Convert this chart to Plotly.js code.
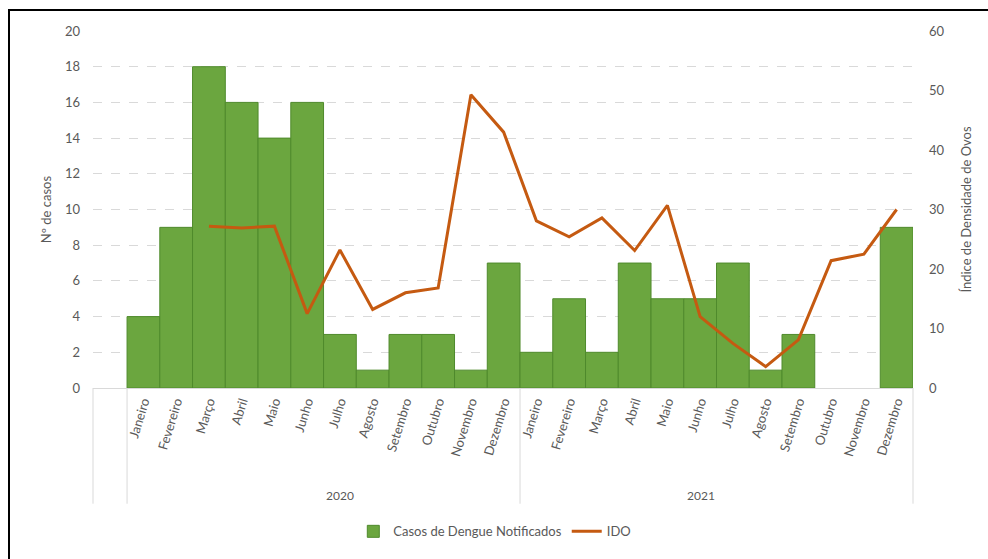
<!DOCTYPE html>
<html>
<head>
<meta charset="utf-8">
<script src="https://cdn.plot.ly/plotly-3.0.1.min.js"></script>
<style>
html,body{margin:0;padding:0;background:#fff;}
#wrap{position:relative;width:988px;height:559px;overflow:hidden;}
#chart{position:absolute;left:0;top:0;width:988px;height:559px;}
#frame{position:absolute;left:8px;top:9px;width:990px;height:560px;border-top:2px solid #000;border-left:2px solid #000;pointer-events:none;}
</style>
</head>
<body>
<div id="wrap"><div id="chart"></div><div id="frame"></div></div>
<script>
const months = ["Janeiro","Fevereiro","Março","Abril","Maio","Junho","Julho","Agosto","Setembro","Outubro","Novembro","Dezembro",
                "Janeiro","Fevereiro","Março","Abril","Maio","Junho","Julho","Agosto","Setembro","Outubro","Novembro","Dezembro"];
const years = ["2020","2021"];
const casos = [4,9,18,16,14,16,3,1,3,3,1,7, 2,5,2,7,5,5,7,1,3,0,0,9];
const ido = [null,null,27.2,26.9,27.2,12.5,23.2,13.2,16,16.8,49.3,43, 28.1,25.4,28.6,23.1,30.7,12,7.5,3.6,8.1,21.4,22.5,30];

const idx = months.map((m,i)=>i);
const xr = [-1.54, 23.5];
const toPaper = v => (v - xr[0])/(xr[1]-xr[0]);
const grey = '#595959';
const font = 'Lato, "Open Sans", sans-serif';

const traces = [
  {type:'bar', x:idx, y:casos, name:'Casos de Dengue Notificados', width:1,
   marker:{color:'#6BA63F', line:{color:'#4F8A2C', width:casos.map(v=>v>0?1:0)}}, yaxis:'y'},
  {type:'scatter', mode:'lines', x:idx, y:ido, name:'IDO', yaxis:'y2',
   line:{color:'#C55A11', width:3}}
];

const perGroup = 12;
const shapes = [];
const bottomY = -(509-392)/361;
shapes.push({type:'line', xref:'paper', yref:'paper', x0:0, x1:0, y0:0, y1:bottomY, line:{color:'#d9d9d9', width:1}});
for (let g=0; g<=years.length; g++){
  const xv = toPaper(g*perGroup - 0.5);
  shapes.push({type:'line', xref:'paper', yref:'paper', x0:xv, x1:xv, y0:0, y1:bottomY, line:{color:'#d9d9d9', width:1}});
}
const annotations = years.map((yr,g)=>({
  xref:'paper', yref:'paper', x: toPaper(g*perGroup + (perGroup-1)/2), y: -(501-392)/361,
  text: yr, showarrow:false, font:{family:font, size:12, color:grey}, yanchor:'middle'
}));

const layout = {
  width:988, height:559,
  margin:{l:93, r:75, t:31, b:167},
  paper_bgcolor:'#fff', plot_bgcolor:'#fff',
  font:{family:font, color:grey},
  bargap:0,
  showlegend:true,
  legend:{orientation:'h', x:0.49, xanchor:'center', y:-(537-392)/361, yanchor:'middle', font:{size:13, color:grey, family:font}},
  xaxis:{range:xr, tickmode:'array', tickvals:idx, ticktext:months, tickangle:-73, automargin:false,
         tickfont:{size:13, color:grey, family:font}, showgrid:false, zeroline:false,
         showline:true, linecolor:'#d9d9d9', ticks:''},
  yaxis:{range:[0,20], dtick:2, showgrid:true, gridcolor:'#d9d9d9', griddash:'dash', automargin:false,
         zeroline:false, ticks:'', ticklabelstandoff:12,
         tickfont:{size:13, color:grey, family:font},
         title:{text:'Nº de casos', font:{size:13, color:grey, family:font}, standoff:10}},
  yaxis2:{range:[0,60], dtick:10, overlaying:'y', side:'right', showgrid:false, zeroline:false, ticks:'', automargin:false,
         ticklabelstandoff:15, tickfont:{size:13, color:grey, family:font},
         title:{text:'Índice de Densidade de Ovos', font:{size:13, color:grey, family:font}, standoff:18}},
  shapes: shapes,
  annotations: annotations
};

Plotly.newPlot('chart', traces, layout, {displayModeBar:false, staticPlot:true});
</script>
</body>
</html>
